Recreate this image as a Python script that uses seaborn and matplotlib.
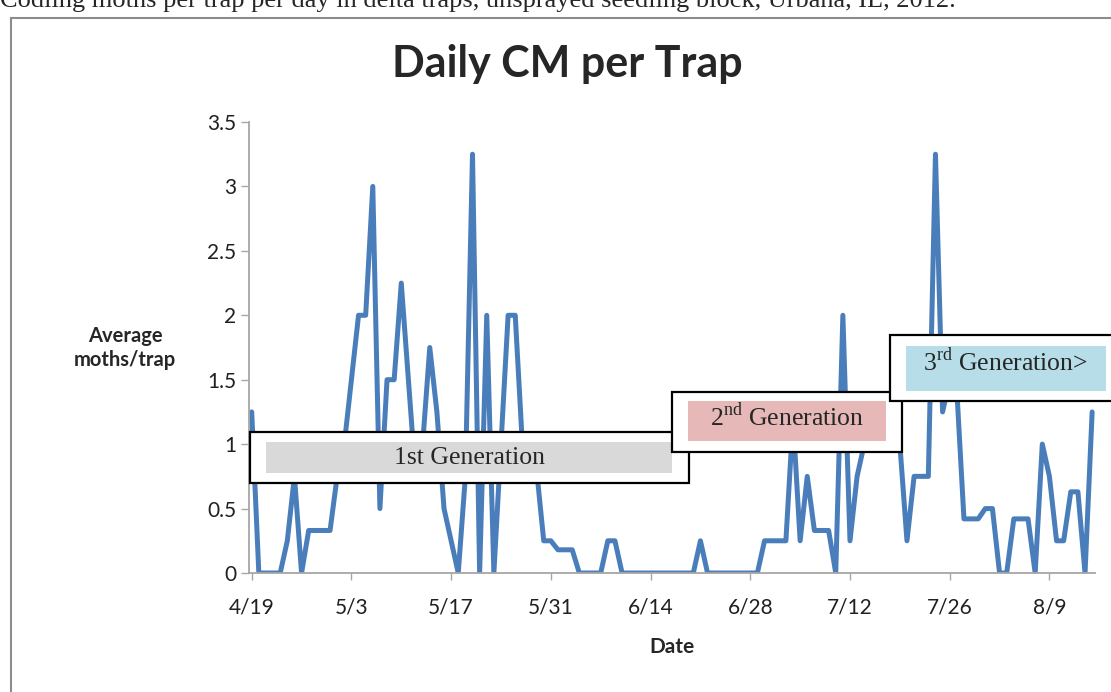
import matplotlib
matplotlib.use("Agg")
import matplotlib.pyplot as plt
from matplotlib.patches import Rectangle
import pandas as pd
import seaborn as sns

# Codling moth counts, unsprayed seedling block, Urbana IL, 2012
start_date = "2012-04-19"
# days after 4/19 at which the line changes direction
sample_day = [0, 1, 4, 5, 6, 7, 8, 11, 12, 13, 14, 15, 16, 17, 18, 19, 20, 21, 22, 23,
              24, 25, 26, 27, 29, 30, 31, 32, 33, 34, 36, 37, 38, 39, 40, 41, 42, 43, 45, 46,
              49, 50, 51, 52, 62, 63, 64, 71, 72, 75, 76, 77, 78, 79, 81, 82, 83, 84, 85, 87,
              89, 91, 92, 93, 95, 96, 97, 98, 99, 100, 102, 103, 104, 105, 106, 107, 109, 110,
              111, 112, 113, 114, 115, 116, 117, 118]
moths_per_trap = [1.25, 0, 0, 0.25, 0.75, 0, 0.33, 0.33, 0.75, 1.0, 1.5, 2.0, 2.0, 3.0, 0.5, 1.5,
                  1.5, 2.25, 1.5, 0.75, 1.0, 1.75, 1.25, 0.5, 0, 0.75, 3.25, 0, 2.0, 0, 2.0, 2.0,
                  1.0, 1.0, 0.8, 0.25, 0.25, 0.18, 0.18, 0, 0, 0.25, 0.25, 0, 0, 0.25, 0, 0, 0.25,
                  0.25, 1.2, 0.25, 0.75, 0.33, 0.33, 0, 2.0, 0.25, 0.75, 1.25, 1.0, 1.0, 0.25,
                  0.75, 0.75, 3.25, 1.25, 1.5, 1.42, 0.42, 0.42, 0.5, 0.5, 0, 0, 0.42, 0.42, 0,
                  1.0, 0.75, 0.25, 0.25, 0.63, 0.63, 0, 1.25]
tick_labels = ["4/19", "5/3", "5/17", "5/31", "6/14", "6/28", "7/12", "7/26", "8/9"]
y_ticks = [0, 0.5, 1, 1.5, 2, 2.5, 3, 3.5]
y_tick_labels = ["0", "0.5", "1", "1.5", "2", "2.5", "3", "3.5"]
generations = ["1st Generation", "2$^{\\rm nd}$ Generation", "3$^{\\rm rd}$ Generation>"]
gen_colors = ["#d9d9d9", "#e6b9b8", "#b7dee8"]

t0 = pd.Timestamp(start_date)
df = pd.DataFrame({"date": t0 + pd.to_timedelta(sample_day, unit="D"),
                   "moths": moths_per_trap})

sns.set_style("white")
plt.rcParams["font.family"] = ["Lato", "DejaVu Sans"]
plt.rcParams["mathtext.fontset"] = "custom"
plt.rcParams["mathtext.rm"] = "Liberation Serif"

W, H = 1111, 692
fig = plt.figure(figsize=(W / 100, H / 100), dpi=100)
ax = fig.add_axes([249 / W, 1 - 573 / H, (1095 - 249) / W, (573 - 122) / H])


def fx(x):
    return x / W


def fy(y):
    return 1 - y / H


sns.lineplot(data=df, x="date", y="moths", ax=ax, color="#4a7ebb", linewidth=3.6)

ax.set_xlim(t0 - pd.Timedelta(days=0.38), t0 + pd.Timedelta(days=118.4))
ax.set_ylim(0, 3.5)
ax.set_xticks([t0 + pd.Timedelta(days=14 * i) for i in range(len(tick_labels))])
ax.set_xticklabels(tick_labels)
ax.set_yticks(y_ticks)
ax.set_yticklabels(y_tick_labels)
ax.set_xlabel("")
ax.set_ylabel("")
ax.tick_params(axis="y", direction="out", length=6, width=1, color="#a6a6a6",
               labelsize=15, labelcolor="#202020", pad=3, left=True)
ax.tick_params(axis="x", direction="out", length=5, width=1, color="#a6a6a6",
               labelsize=15, labelcolor="#202020", pad=13, bottom=True)
for s in ["top", "right"]:
    ax.spines[s].set_visible(False)
for s in ["left", "bottom"]:
    ax.spines[s].set_color("#a6a6a6")
    ax.spines[s].set_linewidth(1.3)

# chart area border and caption cut at the top
fig.patches.append(Rectangle((fx(11), fy(720)), fx(1130), 720 / H - 18 / H,
                             transform=fig.transFigure, fill=False,
                             edgecolor="#8c8c8c", linewidth=1.5, zorder=0))
fig.text(fx(0), fy(7), "Codling moths per trap per day in delta traps, unsprayed seedling block, Urbana, IL, 2012.",
         family="Liberation Serif", fontsize=19, ha="left", va="baseline")

fig.text(fx(567), fy(77), "Daily CM per Trap", fontsize=31, fontweight="bold",
         ha="center", va="baseline")
fig.text(fx(125), fy(348), "Average\nmoths/trap", fontsize=14.5, fontweight="bold",
         ha="center", va="center", linespacing=1.3)
fig.text(fx(672), fy(647), "Date", fontsize=15, fontweight="bold", ha="center", va="center")

# generation labels
outer = [(250, 432, 689, 483), (672, 392, 902, 452), (890, 335, 1125, 401)]
inner = [(266, 442, 672, 473), (688, 401, 886, 441), (906, 346, 1106, 391)]
centers = [(470, 458), (787, 417), (1005, 362)]
for i, label in enumerate(generations):
    x0, y0, x1, y1 = outer[i]
    ax.add_patch(Rectangle((fx(x0), fy(y1)), fx(x1 - x0), (y1 - y0) / H,
                           transform=fig.transFigure, facecolor="white",
                           edgecolor="black", linewidth=1.6, clip_on=False, zorder=10 + 2 * i))
    x0, y0, x1, y1 = inner[i]
    ax.add_patch(Rectangle((fx(x0), fy(y1)), fx(x1 - x0), (y1 - y0) / H,
                           transform=fig.transFigure, facecolor=gen_colors[i],
                           edgecolor="none", clip_on=False, zorder=11 + 2 * i))
    ax.text(fx(centers[i][0]), fy(centers[i][1]), label, transform=fig.transFigure,
            family="Liberation Serif", fontsize=18.5, ha="center", va="center",
            zorder=11.5 + 2 * i, clip_on=False)

fig.savefig("out.png", dpi=100)
